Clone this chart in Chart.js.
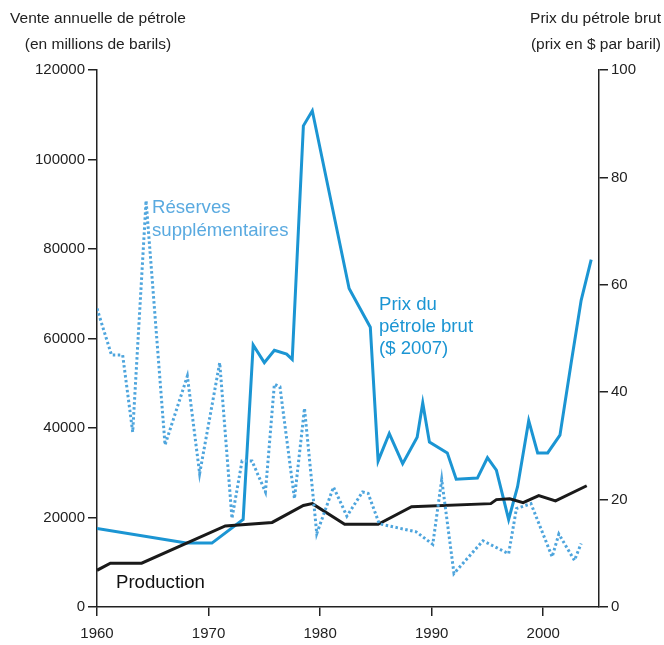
<!DOCTYPE html>
<html>
<head>
<meta charset="utf-8">
<script src="https://cdn.jsdelivr.net/npm/chart.js@4"></script>
<style>
  html, body { margin: 0; padding: 0; background: #fff; }
  #wrap { width: 664px; height: 645px; position: relative; }
</style>
</head>
<body>
<div id="wrap"><canvas id="oilChart" width="664" height="645"></canvas></div>
<script>
// axis ticks
const yearTicks = [1960, 1970, 1980, 1990, 2000];
const leftTicks = [0, 20000, 40000, 60000, 80000, 100000, 120000];
const rightTicks = [0, 20, 40, 60, 80, 100];

// production (millions of barrels)
const prodYears = [1960, 1961.2, 1964, 1971.5, 1975.7, 1978.5, 1979.3, 1982.2, 1985.2, 1988.2, 1995.3, 1995.8, 1997, 1998.2, 1999.6, 2001.1, 2003.9];
const prodValues = [8200, 9800, 9800, 18100, 18900, 22700, 23100, 18500, 18500, 22400, 23100, 24000, 24200, 23300, 24900, 23700, 27100];

// additional reserves (millions of barrels)
const reserveYears = [1960, 1961.3, 1962.3, 1963.2, 1964.4, 1966.1, 1968.1, 1969.2, 1971, 1972.1, 1973, 1973.9, 1975.1, 1975.9, 1976.4, 1977.7, 1978.6, 1979.7, 1981.2, 1982.4, 1983.8, 1984.3, 1985.3, 1988.6, 1990.1, 1990.9, 1992, 1994.6, 1996.9, 1997.6, 1998.9, 2000.8, 2001.4, 2002.8, 2003.4];
const reserveValues = [66700, 56300, 56300, 39100, 90800, 36200, 51600, 29800, 54600, 19800, 32600, 32600, 25700, 49800, 49200, 24200, 44400, 16400, 26800, 20300, 25700, 25400, 18600, 16800, 14000, 28500, 7500, 14800, 11900, 22000, 23100, 11200, 16300, 10400, 14200];

// crude price ($ 2007 per barrel)
const priceYears = [1960, 1968, 1970.3, 1973.1, 1974, 1975, 1975.9, 1977, 1977.5, 1978.5, 1979.3, 1982.6, 1984.5, 1985.2, 1986.2, 1987.4, 1988.7, 1989.2, 1989.8, 1991.4, 1992.2, 1994.1, 1995, 1995.8, 1996.9, 1997.7, 1998.7, 1999.5, 2000.4, 2001.5, 2002.5, 2003.4, 2004.3];
const priceValues = [14.6, 11.9, 11.9, 16.3, 48.8, 45.5, 47.8, 47.1, 46.1, 89.6, 92.4, 59.3, 52.1, 27.2, 32.3, 26.7, 31.6, 38.0, 30.7, 28.7, 23.8, 24.0, 27.8, 25.5, 16.3, 22.4, 34.7, 28.7, 28.7, 32.0, 45.4, 57.1, 64.7];

const FONT = '"Liberation Sans", Arial, sans-serif';
const priceBlue = '#1b95d3';
const reserveBlue = '#4ea5dd';

function pairs(xs, ys) {
    return xs.map((x, i) => ({ x, y: ys[i] }));
}

function fixTicks(values) {
    return (scale) => { scale.ticks = values.map((v) => ({ value: v })); };
}

const textPlugin = {
    id: 'textLabels',
    afterDraw(chart) {
        const ctx = chart.ctx;
        ctx.save();
        ctx.textBaseline = 'middle';
        ctx.fillStyle = '#222';
        ctx.font = `15.5px ${FONT}`;
        ctx.textAlign = 'center';
        ctx.fillText('Vente annuelle de pétrole', 98, 19);
        ctx.fillText('(en millions de barils)', 98, 45);
        ctx.textAlign = 'right';
        ctx.fillText('Prix du pétrole brut', 661, 19);
        ctx.fillText('(prix en $ par baril)', 661, 45);

        ctx.textBaseline = 'alphabetic';
        ctx.textAlign = 'left';
        ctx.font = `18.6px ${FONT}`;
        ctx.fillStyle = '#5aaae0';
        ctx.fillText('Réserves', 152, 213);
        ctx.fillText('supplémentaires', 152, 236);
        ctx.fillStyle = priceBlue;
        ctx.fillText('Prix du', 379, 310);
        ctx.fillText('pétrole brut', 379, 332);
        ctx.fillText('($ 2007)', 379, 354);
        ctx.fillStyle = '#111';
        ctx.font = `18.6px ${FONT}`;
        ctx.fillText('Production', 116, 588);
        ctx.restore();
    },
};

const axisLine = { display: true, color: '#222', width: 1.5 };
const tickGrid = { drawOnChartArea: false, drawTicks: true, tickLength: 9, color: '#222', lineWidth: 1.5 };
const tickFont = { family: FONT, size: 15 };

new Chart(document.getElementById('oilChart').getContext('2d'), {
    type: 'line',
    data: {
        datasets: [
            {
                label: 'Réserves supplémentaires',
                data: pairs(reserveYears, reserveValues),
                yAxisID: 'yLeft',
                borderColor: reserveBlue,
                borderWidth: 3,
                borderDash: [2.5, 2.5],
                pointRadius: 0,
                tension: 0,
            },
            {
                label: 'Production',
                data: pairs(prodYears, prodValues),
                yAxisID: 'yLeft',
                borderColor: '#1a1a1a',
                borderWidth: 3,
                pointRadius: 0,
                tension: 0,
            },
            {
                label: 'Prix du pétrole brut ($ 2007)',
                data: pairs(priceYears, priceValues),
                yAxisID: 'yRight',
                borderColor: priceBlue,
                borderWidth: 3,
                pointRadius: 0,
                tension: 0,
            },
        ],
    },
    options: {
        responsive: false,
        animation: false,
        layout: { padding: { top: 70, left: 0, right: 0, bottom: 0 } },
        plugins: {
            legend: { display: false },
            tooltip: { enabled: false },
        },
        scales: {
            x: {
                type: 'linear',
                min: 1960,
                max: 2005,
                afterBuildTicks: fixTicks(yearTicks),
                afterFit: (s) => { s.height = 38; },
                border: axisLine,
                grid: tickGrid,
                ticks: { color: '#222', font: tickFont, padding: 9, callback: (v) => String(v) },
            },
            yLeft: {
                type: 'linear',
                position: 'left',
                min: 0,
                max: 120000,
                afterBuildTicks: fixTicks(leftTicks),
                afterFit: (s) => { s.width = 97; },
                border: axisLine,
                grid: tickGrid,
                ticks: { color: '#222', font: tickFont, padding: 3, callback: (v) => String(v) },
            },
            yRight: {
                type: 'linear',
                position: 'right',
                min: 0,
                max: 100,
                afterBuildTicks: fixTicks(rightTicks),
                afterFit: (s) => { s.width = 65; },
                border: axisLine,
                grid: tickGrid,
                ticks: { color: '#222', font: tickFont, padding: 3, callback: (v) => String(v) },
            },
        },
    },
    plugins: [textPlugin],
});
</script>
</body>
</html>
